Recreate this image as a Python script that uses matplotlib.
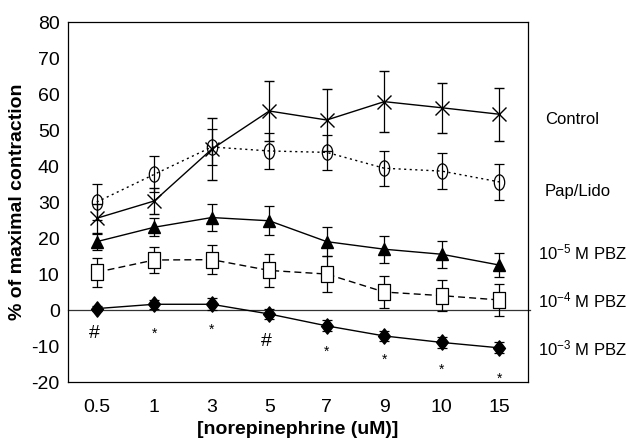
import matplotlib
matplotlib.use("Agg")
import matplotlib.pyplot as plt
from matplotlib.path import Path
from matplotlib.transforms import Affine2D

FONT = "Liberation Sans"
plt.rcParams["font.family"] = [FONT, "DejaVu Sans"]
plt.rcParams["mathtext.fontset"] = "custom"
plt.rcParams["mathtext.rm"] = FONT
plt.rcParams["mathtext.it"] = FONT
plt.rcParams["axes.unicode_minus"] = False

concentrations = ["0.5", "1", "3", "5", "7", "9", "10", "15"]

control = [25.5, 30.3, 44.7, 55.3, 52.8, 57.9, 56.2, 54.4]
control_err = [4.0, 3.7, 8.7, 8.4, 8.7, 8.4, 7.0, 7.4]

pap_lido = [30.0, 37.7, 45.3, 44.2, 43.8, 39.4, 38.6, 35.6]
pap_lido_err = [5.0, 5.0, 5.0, 4.9, 4.8, 4.8, 4.9, 5.0]

pbz5 = [19.0, 23.0, 25.7, 24.8, 19.0, 16.9, 15.5, 12.5]
pbz5_err = [2.2, 2.5, 3.8, 4.0, 4.0, 3.8, 3.7, 3.4]

pbz4 = [10.5, 13.9, 14.0, 11.0, 10.0, 5.0, 4.0, 2.8]
pbz4_err = [4.0, 3.6, 4.1, 4.7, 5.0, 4.5, 4.3, 4.5]

pbz3 = [0.4, 1.6, 1.6, -1.1, -4.4, -7.2, -9.0, -10.5]
pbz3_err = [0.8, 1.2, 1.7, 1.5, 1.5, 1.5, 1.5, 1.5]

sig_marks = ["#", "*", "*", "#", "*", "*", "*", "*"]
sig_y = [-6.5, -6.5, -5.6, -8.8, -11.6, -13.7, -16.5, -19.0]

labels = ["Control", "Pap/Lido", r"10$^{-5}$ M PBZ", r"10$^{-4}$ M PBZ", r"10$^{-3}$ M PBZ"]
label_y = [52.8, 32.8, 16.1, 2.8, -10.6]
label_x = [1.037, 1.037, 1.022, 1.022, 1.022]

x = list(range(len(concentrations)))

# tall ellipse / box / diamond markers like the scanned figure
ellipse = Path.unit_circle().transformed(Affine2D().scale(0.68, 1.0))
tall_box = Path([(-0.75, -1), (0.75, -1), (0.75, 1), (-0.75, 1), (-0.75, -1)],
                [Path.MOVETO, Path.LINETO, Path.LINETO, Path.LINETO, Path.CLOSEPOLY])
diamond = Path([(0, -1), (0.78, 0), (0, 1), (-0.78, 0), (0, -1)],
               [Path.MOVETO, Path.LINETO, Path.LINETO, Path.LINETO, Path.CLOSEPOLY])

fig = plt.figure(figsize=(6.26, 4.42), dpi=100)
ax = fig.add_axes([0.1086, 0.1357, 0.7349, 0.8143])

ax.axhline(0, color="#333333", lw=0.9, xmax=1.005, clip_on=False, zorder=1)

common = dict(color="black", ecolor="black", elinewidth=0.9, capsize=3.5,
              capthick=0.9, lw=1.0, zorder=3)
ax.errorbar(x, control, yerr=control_err, fmt="-", marker="x", ms=10, mew=1.0, **common)
ax.errorbar(x, pap_lido, yerr=pap_lido_err, fmt=":", marker=ellipse, ms=11, mfc="none",
            mew=0.9, dashes=(1.5, 2.5), **common)
ax.errorbar(x, pbz5, yerr=pbz5_err, fmt="-", marker="^", ms=9, mfc="black", **common)
ax.errorbar(x, pbz4, yerr=pbz4_err, fmt="--", marker=tall_box, ms=11, mfc="white",
            mew=0.9, dashes=(5, 3), **common)
ax.errorbar(x, pbz3, yerr=pbz3_err, fmt="-", marker=diamond, ms=11, mfc="black", **common)

for xi, m, yi in zip(x, sig_marks, sig_y):
    if m == "#":
        ax.text(xi - 0.05, yi, m, ha="center", va="center", fontsize=14)
    else:
        ax.text(xi, yi, m, ha="center", va="center", fontsize=10)

for lab, xi, yi in zip(labels, label_x, label_y):
    ax.text(xi, yi, lab, transform=ax.get_yaxis_transform(), ha="left",
            va="center", fontsize=12)

ax.set_xlim(-0.5, 7.5)
ax.set_ylim(-20, 80)
ax.set_yticks(range(-20, 81, 10))
ax.set_xticks(x)
ax.set_xticklabels(concentrations)
ax.tick_params(axis="both", length=0, labelsize=14, pad=6)
ax.tick_params(axis="x", pad=12)
for s in ax.spines.values():
    s.set_linewidth(0.9)

ax.set_ylabel("% of maximal contraction", fontsize=14, fontweight="bold", labelpad=4)
ax.set_xlabel("[norepinephrine (uM)]", fontsize=14, fontweight="bold", labelpad=4)

fig.savefig("out.png", dpi=100)
